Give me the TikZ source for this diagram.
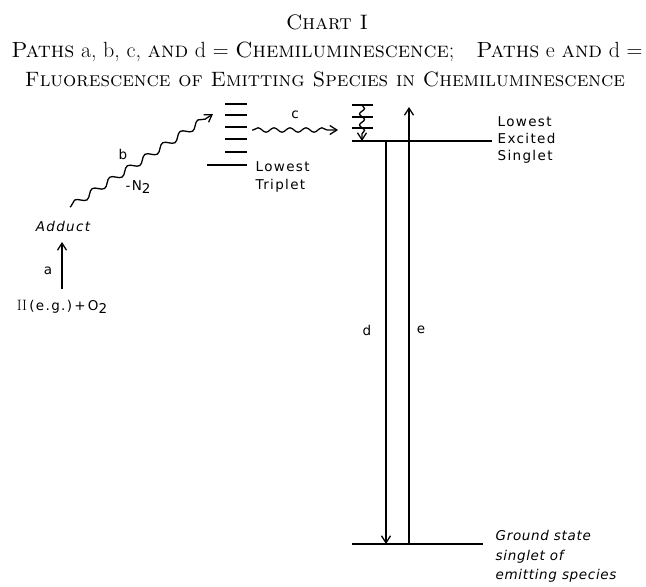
\documentclass[tikz,border=0pt]{standalone}
\usepackage{fontspec}
\usetikzlibrary{arrows.meta,decorations.pathmorphing}
\newfontfamily\lett[LetterSpace=10]{DejaVu Sans}
\newfontfamily\letti[LetterSpace=5]{DejaVu Sans}
\begin{document}
\begin{tikzpicture}[x=1pt,y=-1pt,line width=1.3pt,
  arr/.style={-{Straight Barb[length=7pt,width=9pt,line width=1.3pt]}},
  wavy/.style={decorate,decoration={snake,amplitude=3.3pt,segment length=21pt,pre length=1pt,post length=7pt}},
  lab/.style={font=\lett\fontsize{13.5}{18}\selectfont,inner sep=0pt},
  ilab/.style={font=\letti\itshape\fontsize{13.5}{19.5}\selectfont,inner sep=0pt},
  head/.style={inner sep=0pt,font=\fontsize{15}{18}\selectfont},
  lvl/.style={line width=1.3pt}]
\useasboundingbox (0,0) rectangle (646,587);
% headings
\node[head] (t1) at (327,22) {\resizebox{82pt}{!}{\textsc{Chart I}}};
\node[head] (t2) at (327,52) {\resizebox{631pt}{!}{\textsc{Paths} a, b, c, \textsc{and} d = \textsc{Chemiluminescence};\quad \textsc{Paths} e \textsc{and} d =}};
\node[head] (t3) at (325,79) {\resizebox{600pt}{!}{\textsc{Fluorescence of Emitting Species in Chemiluminescence}}};
% triplet levels
\foreach \y in {104,115,127,139,152} \draw[lvl] (225,\y) -- (247,\y);
\coordinate (trL) at (207,165); \coordinate (trR) at (247,165);
\draw[lvl] (trL) -- (trR);
\node[lab,anchor=north west,align=left] (trlab) at (255,161) {Lowest\\Triplet};
% singlet levels
\foreach \y in {105,117,128} \draw[lvl] (352,\y) -- (373,\y);
\coordinate (sL) at (352,141); \coordinate (sR) at (492,141);
\draw[lvl] (sL) -- (sR);
\coordinate (vtop) at (362,105); \coordinate (vbot) at (362,141);
\draw[arr,decorate,decoration={snake,amplitude=2.5pt,segment length=11pt,post length=6pt}] (vtop) -- (vbot);
\node[lab,anchor=north west,align=left,font=\lett\fontsize{13.5}{17}\selectfont] (slab) at (497,116) {Lowest\\Excited\\Singlet};
% ground level
\coordinate (gL) at (352,544); \coordinate (gR) at (483,544);
\draw[lvl] (gL) -- (gR);
\node[ilab,anchor=north west,align=left] (glab) at (495,530) {Ground state\\singlet of\\emitting species};
% d and e
\coordinate (dtop) at (386,141); \coordinate (dbot) at (386,544);
\coordinate (ebot) at (409,544); \coordinate (etop) at (409,107);
\draw[arr] (dtop) -- (dbot);
\draw[arr] (ebot) -- (etop);
\node[lab] (dl) at (367,330) {d};
\node[lab] (el) at (421,330) {e};
% adduct side
\node[lab,font=\lett\itshape\fontsize{13.5}{18}\selectfont] (adduct) at (63,226) {Adduct};
\node[lab] (react) at (62,307) {\textrm{\fontsize{15}{15}\selectfont II}\,(e.g.)\,+\,O\raisebox{-3.5pt}{2}};
\coordinate (abot) at (62,289); \coordinate (atop) at (62,242);
\draw[arr] (abot) -- (atop);
\node[lab] (al) at (48,271) {a};
\coordinate (bS) at (70,207); \coordinate (bE) at (213,114);
\draw[arr,wavy] (bS) -- (bE);
\node[lab] (bl) at (123,154) {b};
\node[lab] (n2) at (138,187) {-N\raisebox{-3.5pt}{2}};
\coordinate (cS) at (252,130); \coordinate (cE) at (338,130);
\draw[arr,wavy,decoration={amplitude=2.2pt,segment length=16pt}] (cS) -- (cE);
\node[lab] (cl) at (295,115) {c};
\end{tikzpicture}
\end{document}
